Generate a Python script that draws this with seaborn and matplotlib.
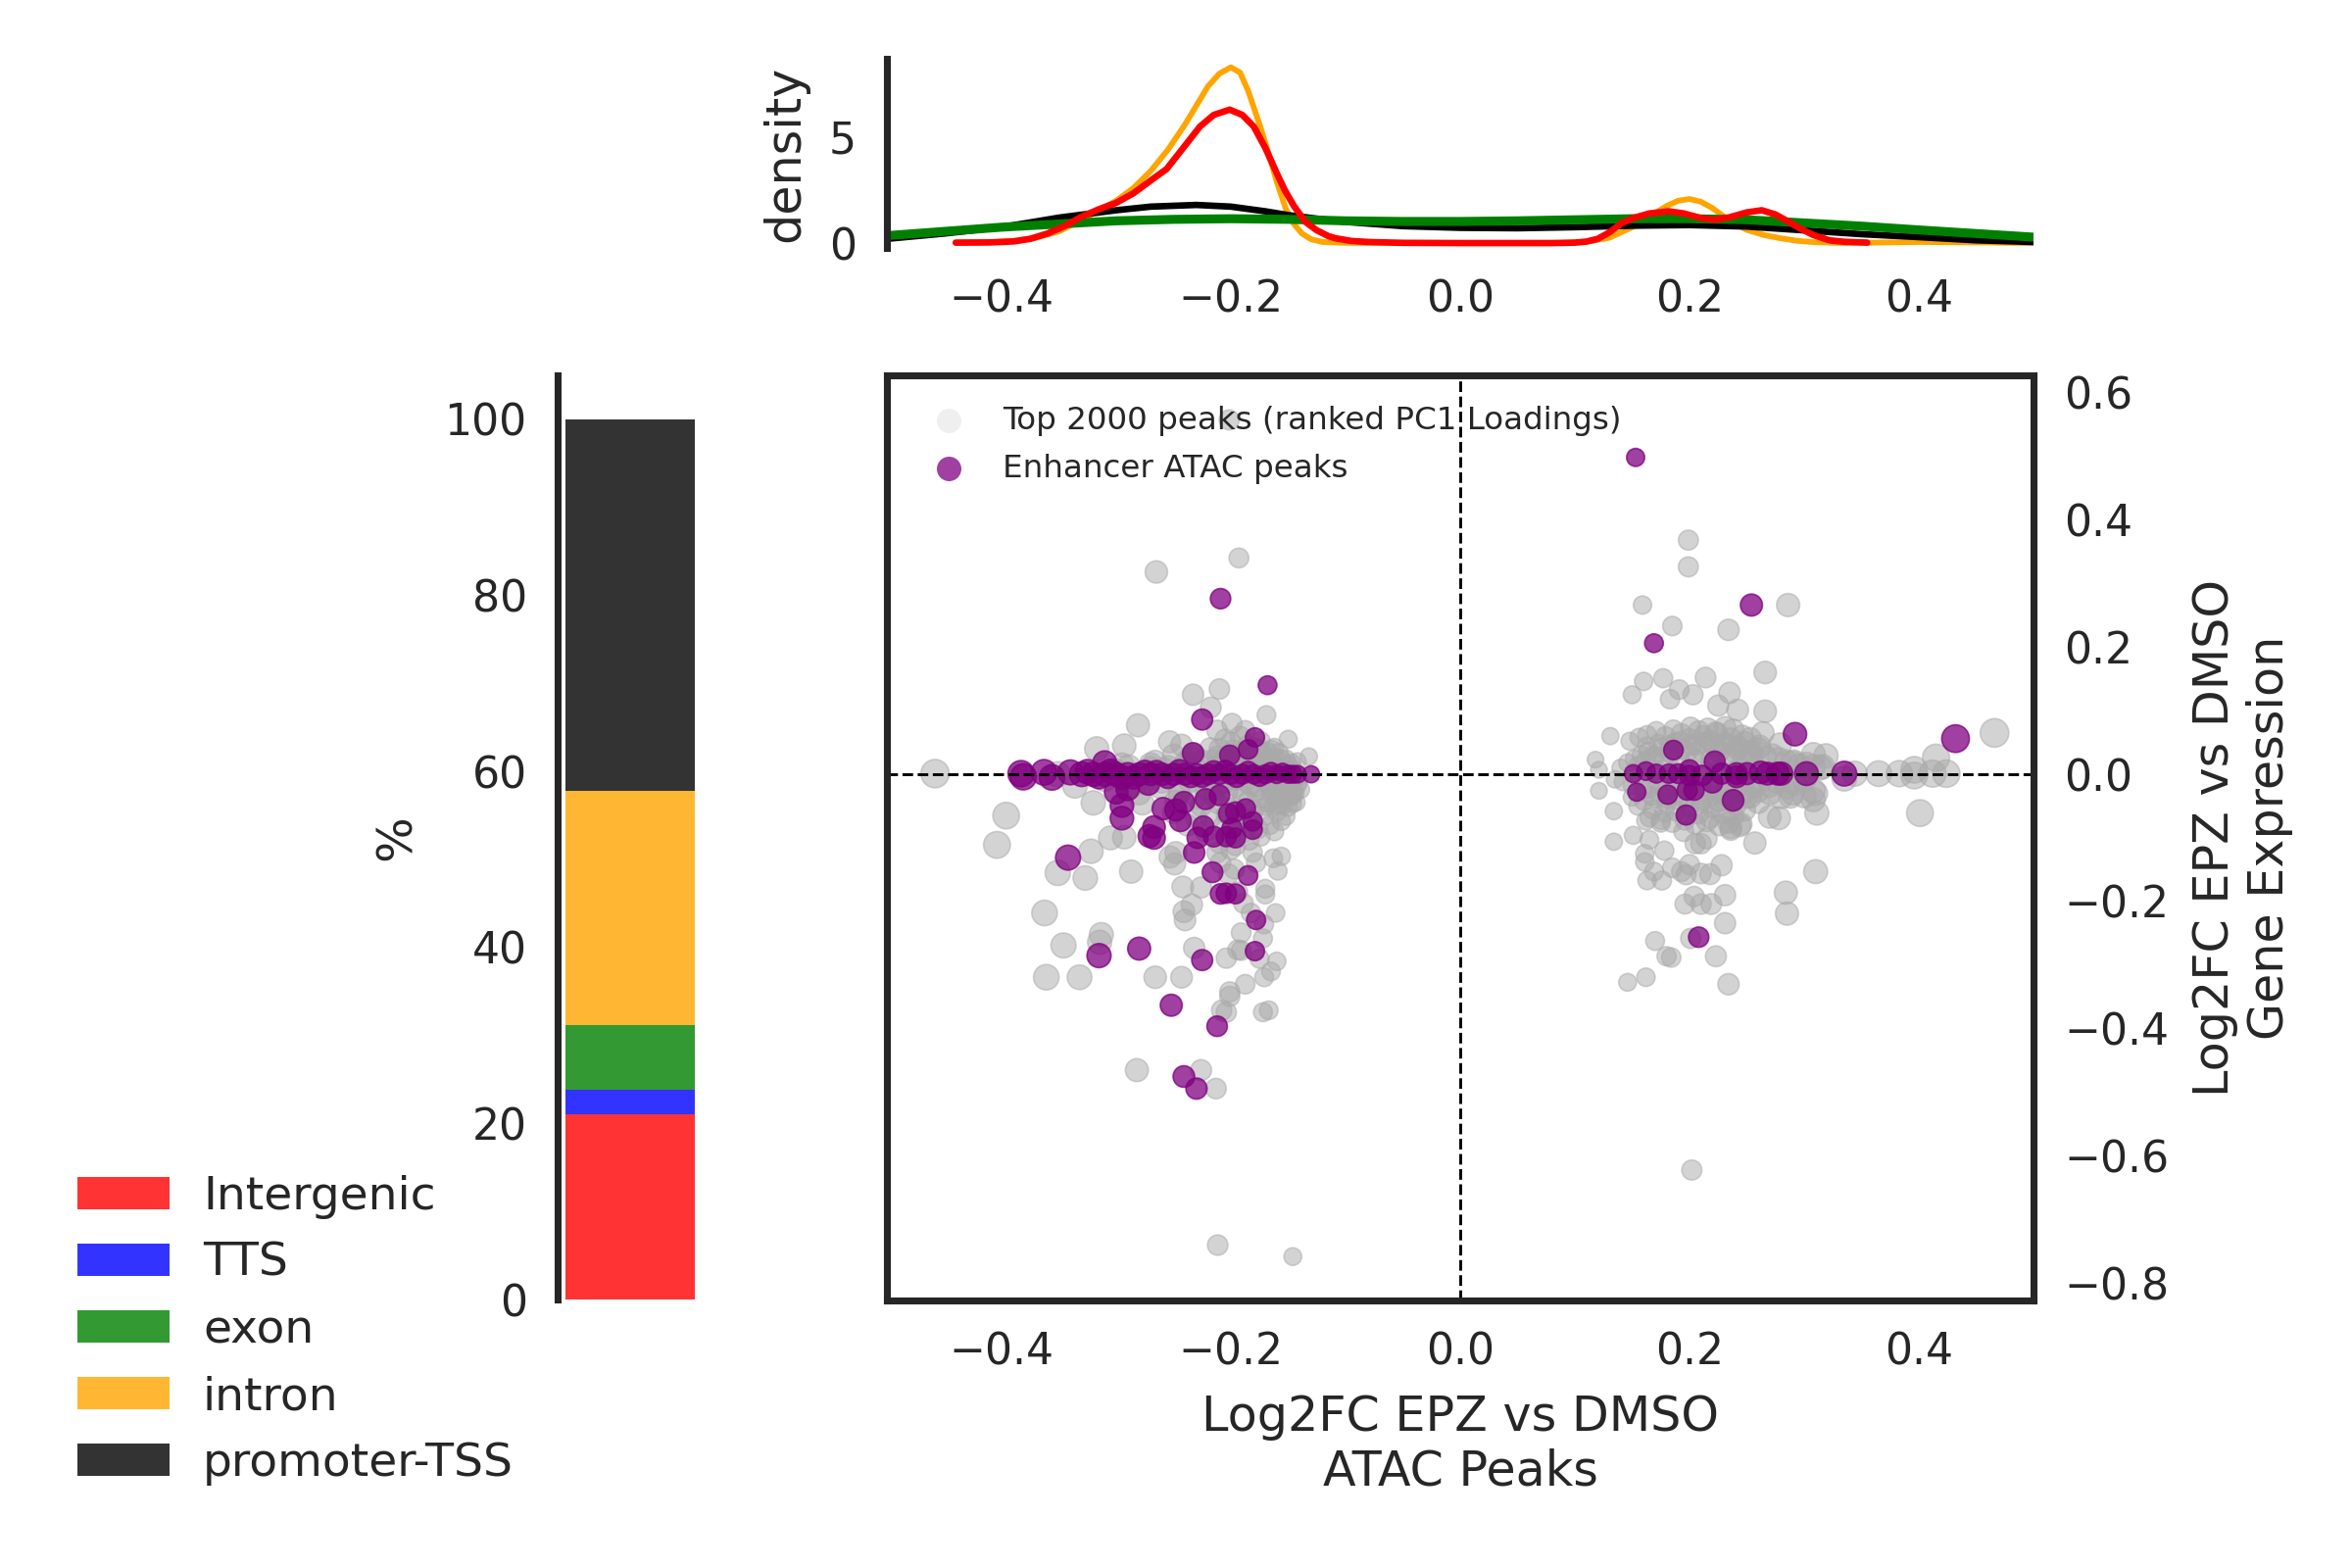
import numpy as np
import pandas as pd
import matplotlib
matplotlib.use("Agg")
import matplotlib.pyplot as plt
from matplotlib.patches import Patch
import seaborn as sns

# grey peaks, left cloud
gray_left_x = [-0.2015, -0.193, -0.265, -0.233, -0.21, -0.2175, -0.169, -0.281, -0.15, -0.293, -0.317, -0.132, -0.142,
               -0.458, -0.396, -0.404, -0.322, -0.305, -0.293, -0.32, -0.336, -0.351, -0.277, -0.2535, -0.243, -0.199,
               -0.1875, -0.212, -0.266, -0.295, -0.1645, -0.161,
               -0.351, -0.327, -0.287, -0.253, -0.248, -0.249, -0.242, -0.226, -0.234, -0.241, -0.24, -0.3625, -0.313,
               -0.3145, -0.346, -0.232, -0.361, -0.332, -0.266, -0.243, -0.204, -0.194, -0.191, -0.191, -0.172, -0.171,
               -0.175, -0.16, -0.165, -0.171, -0.1875, -0.201, -0.201, -0.208, -0.204, -0.172, -0.167, -0.282, -0.226,
               -0.213, -0.2115, -0.146, -0.189, -0.1825, -0.161, -0.17, -0.17, -0.159, -0.156, -0.163, -0.178, -0.181,
               -0.2, -0.197, -0.209, -0.202, -0.212, -0.194]
gray_left_y = [0.557, 0.34, 0.318, 0.125, 0.134, 0.105, 0.093, 0.077, 0.055, 0.045, 0.04, 0.028, 0.02,
               0.001, -0.065, -0.111, -0.121, -0.10, -0.099, -0.045, -0.018, 0.0, -0.046, 0.051, 0.046, 0.08,
               0.069, 0.069, 0.02, 0.015, 0.039, 0.026,
               -0.155, -0.163, -0.153, -0.13, -0.123, -0.141, -0.177, -0.178, -0.205, -0.216, -0.229, -0.218, -0.252,
               -0.264, -0.269, -0.273, -0.319, -0.319, -0.319, -0.319, -0.289, -0.276, -0.277, -0.249, -0.258, -0.236,
               -0.29, -0.294, -0.31, -0.319, -0.33, -0.342, -0.349, -0.371, -0.374, -0.374, -0.371, -0.465, -0.465,
               -0.494, -0.74, -0.758, -0.203, -0.218, -0.218, -0.18, -0.189, -0.152, -0.129, -0.132, -0.139, -0.123,
               -0.118, -0.149, -0.139, -0.157, -0.123, -0.185]
# dense core of the left cloud
core_left_x = [-0.24, -0.232, -0.225, -0.218, -0.212, -0.205, -0.198, -0.192, -0.186, -0.18, -0.174, -0.168, -0.162,
               -0.156, -0.15, -0.146, -0.228, -0.221, -0.214, -0.207, -0.2, -0.194, -0.188, -0.181, -0.176, -0.17,
               -0.164, -0.158, -0.152, -0.147, -0.236, -0.222, -0.209, -0.196, -0.183, -0.172, -0.16, -0.151, -0.143,
               -0.215, -0.203, -0.19, -0.178, -0.166, -0.155, -0.148, -0.141, -0.226, -0.211, -0.197, -0.185, -0.173,
               -0.163, -0.154, -0.146, -0.139, -0.218, -0.204, -0.192, -0.18, -0.169, -0.159, -0.15, -0.143, -0.206,
               -0.194, -0.183, -0.171, -0.16, -0.152, -0.2, -0.188, -0.176, -0.166, -0.156, -0.21, -0.196, -0.184,
               -0.174, -0.162, -0.222, -0.245, -0.262, -0.276, -0.289, -0.3, -0.258, -0.27, -0.284, -0.23, -0.25,
               -0.17, -0.166, -0.161, -0.157, -0.153, -0.149, -0.145, -0.142, -0.168, -0.163, -0.159, -0.155, -0.15,
               -0.146, -0.144, -0.172, -0.165, -0.158, -0.152, -0.147, -0.19, -0.185, -0.18, -0.175, -0.21, -0.205,
               -0.2, -0.195, -0.19, -0.185, -0.18, -0.175, -0.22, -0.215, -0.21, -0.205, -0.195, -0.187, -0.178,
               -0.25, -0.255, -0.24, -0.235, -0.245, -0.26, -0.23, -0.27, -0.28, -0.29, -0.31, -0.238, -0.248]
core_left_y = [0.012, 0.03, 0.022, 0.041, 0.028, 0.055, 0.038, 0.06, 0.045, 0.032, 0.052, 0.035, 0.042,
               0.024, 0.015, 0.008, 0.005, -0.01, 0.012, 0.004, 0.018, 0.008, 0.02, 0.006, 0.024, 0.01,
               0.02, 0.006, 0.002, -0.004, -0.012, -0.024, -0.016, -0.009, -0.018, -0.006, -0.012, -0.014, -0.006,
               -0.035, -0.028, -0.034, -0.028, -0.022, -0.026, -0.02, -0.012, -0.05, -0.046, -0.052, -0.042, -0.038,
               -0.034, -0.04, -0.034, -0.024, -0.068, -0.062, -0.066, -0.056, -0.05, -0.048, -0.052, -0.044, -0.08,
               -0.08, -0.07, -0.066, -0.06, -0.066, -0.098, -0.092, -0.086, -0.08, -0.074, -0.108, -0.112, -0.104,
               -0.098, -0.09, -0.09, -0.03, -0.02, -0.012, 0.012, 0.005, 0.008, 0.016, -0.016, -0.07, -0.06,
               -0.012, -0.022, -0.016, -0.03, -0.018, -0.036, -0.026, -0.018, -0.045, -0.05, -0.038, -0.048, -0.036,
               -0.046, -0.03, 0.03, 0.016, 0.034, 0.024, 0.018, 0.034, 0.016, 0.042, 0.03, 0.04, 0.026,
               0.05, 0.03, 0.018, 0.036, 0.012, 0.04, -0.01, 0.022, 0.012, -0.014, -0.02, -0.012, -0.02,
               0.03, 0.012, 0.018, 0.028, -0.03, -0.012, -0.036, 0.01, -0.03, -0.022, -0.008, -0.08, -0.042]

# grey peaks, right cloud
gray_right_x = [0.199, 0.199, 0.159, 0.286, 0.185, 0.234, 0.266, 0.214, 0.177, 0.16, 0.15, 0.191, 0.183, 0.203, 0.235,
                0.225, 0.242, 0.266, 0.264, 0.131, 0.466, 0.415, 0.396, 0.396, 0.412, 0.424, 0.383, 0.365, 0.344, 0.335,
                0.401, 0.118, 0.121, 0.121, 0.134, 0.134, 0.151, 0.165, 0.178, 0.161, 0.161, 0.169, 0.163, 0.176, 0.185,
                0.193, 0.197, 0.2, 0.21, 0.218, 0.228, 0.31, 0.284, 0.285, 0.231, 0.219, 0.21, 0.204, 0.196, 0.231,
                0.201, 0.17, 0.18, 0.184, 0.223, 0.162, 0.146, 0.234, 0.257, 0.278, 0.27, 0.311, 0.288, 0.308, 0.308,
                0.308, 0.319, 0.279, 0.291, 0.316, 0.205, 0.21, 0.215, 0.195, 0.175, 0.162, 0.236, 0.244, 0.234, 0.202]
gray_right_y = [0.368, 0.326, 0.266, 0.266, 0.233, 0.227, 0.16, 0.152, 0.151, 0.146, 0.125, 0.133, 0.118, 0.125, 0.128,
                0.108, 0.101, 0.099, 0.065, 0.06, 0.065, 0.026, 0.007, -0.002, 0.001, 0.001, 0.001, 0.001, 0.001, -0.007,
                -0.061, 0.023, 0.007, -0.026, -0.058, -0.106, -0.096, -0.103, -0.12, -0.125, -0.138, -0.153, -0.167,
                -0.167, -0.147, -0.153, -0.158, -0.142, -0.156, -0.157, -0.143, -0.153, -0.186, -0.219, -0.19, -0.204,
                -0.204, -0.192, -0.204, -0.234, -0.258, -0.262, -0.286, -0.288, -0.286, -0.319, -0.327, -0.33, -0.108,
                -0.069, -0.067, -0.061, -0.035, -0.04, -0.026, 0.031, 0.029, 0.047, 0.02, 0.012, -0.109, -0.109, -0.101,
                -0.09, -0.076, -0.073, -0.087, -0.081, -0.076, -0.622]
# dense core of the right cloud
core_right_x = [0.14, 0.146, 0.152, 0.158, 0.164, 0.17, 0.176, 0.182, 0.188, 0.194, 0.2, 0.206, 0.212, 0.218, 0.224, 0.23,
                0.236, 0.242, 0.248, 0.254, 0.26, 0.266, 0.272, 0.278, 0.284, 0.29, 0.296, 0.302, 0.308, 0.314,
                0.135, 0.142, 0.15, 0.157, 0.165, 0.172, 0.18, 0.187, 0.195, 0.203, 0.21, 0.217, 0.225, 0.233, 0.24,
                0.247, 0.255, 0.263, 0.27, 0.277, 0.285, 0.292, 0.3, 0.148, 0.156, 0.163, 0.171, 0.179, 0.186, 0.193,
                0.201, 0.208, 0.216, 0.223, 0.231, 0.238, 0.246, 0.253, 0.261, 0.15, 0.16, 0.17, 0.18, 0.19, 0.2, 0.21,
                0.22, 0.23, 0.24, 0.25, 0.26, 0.155, 0.168, 0.178, 0.188, 0.198, 0.208, 0.218, 0.228, 0.238, 0.248,
                0.165, 0.175, 0.185, 0.196, 0.205, 0.215, 0.226, 0.236, 0.245, 0.172, 0.186, 0.2, 0.214, 0.226, 0.24,
                0.155, 0.162, 0.169, 0.177, 0.184, 0.191, 0.198, 0.205, 0.212, 0.219, 0.226, 0.233, 0.24, 0.247, 0.254,
                0.16, 0.167, 0.174, 0.181, 0.189, 0.196, 0.203, 0.211, 0.218, 0.225, 0.232, 0.239, 0.246, 0.253, 0.26,
                0.163, 0.173, 0.183, 0.192, 0.202, 0.213, 0.222, 0.232, 0.242, 0.252, 0.27, 0.28, 0.29, 0.3, 0.31]
core_right_y = [0.01, 0.018, 0.024, 0.03, 0.036, 0.028, 0.042, 0.034, 0.05, 0.04, 0.056, 0.046, 0.06, 0.052, 0.064, 0.048,
                0.056, 0.044, 0.05, 0.036, 0.04, 0.028, 0.03, 0.024, 0.02, 0.018, 0.014, 0.016, 0.012, 0.01,
                -0.008, -0.012, -0.018, -0.01, -0.022, -0.014, -0.026, -0.018, -0.024, -0.016, -0.028, -0.02, -0.026,
                -0.014, -0.024, -0.012, -0.02, -0.01, -0.018, -0.012, -0.02, -0.014, -0.008, 0.052, 0.058, 0.062, 0.068,
                0.06, 0.07, 0.064, 0.074, 0.068, 0.072, 0.066, 0.074, 0.07, 0.06, 0.056, 0.044, -0.036, -0.042, -0.038,
                -0.046, -0.04, -0.05, -0.044, -0.052, -0.04, -0.048, -0.036, -0.044, -0.05, -0.056, -0.06, -0.058, -0.064,
                -0.062, -0.068, -0.06, -0.066, -0.056, -0.068, -0.072, -0.076, -0.072, -0.078, -0.074, -0.08, -0.084,
                -0.078, 0.006, 0.002, 0.008, 0.003, 0.007, 0.004,
                0.014, 0.022, 0.03, 0.02, 0.032, 0.024, 0.036, 0.022, 0.034, 0.024, 0.036, 0.026, 0.034, 0.022, 0.03,
                -0.024, -0.034, -0.028, -0.038, -0.03, -0.038, -0.03, -0.04, -0.034, -0.042, -0.032, -0.04, -0.03, -0.036, -0.026,
                0.044, 0.048, 0.046, 0.052, 0.046, 0.05, 0.044, 0.048, 0.04, 0.028, -0.03, -0.036, -0.03, -0.034, -0.03]

# enhancer peaks
purple_x = [-0.209, -0.168, -0.225, -0.179, -0.233, -0.201, -0.185, -0.31,
            -0.383, -0.381, -0.363, -0.356, -0.34, -0.33, -0.32, -0.31, -0.3, -0.29, -0.28, -0.27, -0.26, -0.25, -0.24,
            -0.23, -0.22, -0.21, -0.2, -0.19, -0.18, -0.17, -0.16, -0.15, -0.146, -0.142, -0.13,
            -0.3, -0.295, -0.295, -0.29, -0.272, -0.259, -0.248, -0.241, -0.244, -0.267, -0.271, -0.267, -0.222, -0.21,
            -0.202, -0.196, -0.187, -0.181, -0.181, -0.199, -0.204, -0.196, -0.215, -0.224, -0.229, -0.232, -0.342,
            -0.216, -0.185, -0.209, -0.204, -0.196, -0.178, -0.179, -0.225, -0.28, -0.315, -0.252, -0.212, -0.241, -0.23,
            0.254, 0.169, 0.292, 0.432, 0.186, 0.222, 0.154, 0.181, 0.198, 0.204, 0.22, 0.238, 0.197, 0.241, 0.208, 0.153,
            0.151, 0.162, 0.171, 0.182, 0.19, 0.2, 0.2, 0.211, 0.228, 0.241, 0.25, 0.262, 0.268, 0.277, 0.28, 0.302, 0.335,
            -0.325, -0.305, -0.285, -0.265, -0.245, -0.225, -0.205, -0.185, -0.165, -0.315, -0.295, -0.275, -0.255, -0.235,
            -0.215, -0.195, -0.175, -0.155]
purple_y = [0.276, 0.14, 0.086, 0.058, 0.033, 0.03, 0.039, 0.018,
            0.001, -0.004, 0.003, -0.005, 0.003, 0.0, 0.0, 0.0, 0.0, 0.0, 0.0, 0.0, 0.0, 0.0, 0.0,
            0.0, 0.0, 0.0, 0.0, 0.0, 0.0, 0.0, 0.0, 0.0, 0.0, 0.0, 0.0,
            -0.028, -0.049, -0.069, -0.023, -0.015, -0.054, -0.056, -0.044, -0.073, -0.083, -0.097, -0.1, -0.039, -0.033,
            -0.062, -0.059, -0.054, -0.074, -0.087, -0.085, -0.098, -0.1, -0.098, -0.082, -0.1, -0.123, -0.131,
            -0.154, -0.159, -0.188, -0.187, -0.188, -0.229, -0.278, -0.292, -0.274, -0.285, -0.363, -0.396, -0.475, -0.494,
            0.266, 0.206, 0.063, 0.056, 0.038, 0.02, -0.028, -0.032, -0.025, -0.025, -0.013, -0.041, -0.064, -0.004, -0.256, 0.498,
            0.001, 0.005, 0.001, 0.001, 0.001, 0.007, -0.002, -0.002, 0.001, 0.001, 0.001, 0.003, 0.001, 0.001, 0.001, 0.001, 0.001,
            0.004, 0.005, -0.005, 0.004, 0.006, -0.004, 0.006, 0.005, 0.004, -0.004, -0.005, 0.004, -0.005, -0.004,
            0.005, -0.005, -0.004, 0.003]

# stacked annotation bar
annot_names = ["Intergenic", "TTS", "exon", "intron", "promoter-TSS"]
annot_pct = [21.0, 2.8, 7.4, 26.6, 42.2]
annot_colors = ["red", "blue", "green", "orange", "black"]

# density curves on top
orange_x = [-0.44, -0.41, -0.39, -0.37, -0.35, -0.33, -0.315, -0.30, -0.285, -0.27, -0.255, -0.24, -0.23, -0.22, -0.21,
            -0.2, -0.192, -0.185, -0.175, -0.168, -0.16, -0.152, -0.145, -0.138, -0.13, -0.12, -0.1, 0.0, 0.09, 0.11,
            0.13, 0.15, 0.165, 0.18, 0.19, 0.2, 0.21, 0.22, 0.23, 0.24, 0.25, 0.265, 0.28, 0.295, 0.31, 0.33, 0.36, 0.4,
            0.45, 0.5]
orange_y = [0.02, 0.04, 0.1, 0.25, 0.55, 1.1, 1.55, 2.0, 2.6, 3.4, 4.4, 5.6, 6.5, 7.4, 8.0,
            8.3, 8.05, 7.2, 5.6, 4.4, 2.9, 1.6, 0.9, 0.45, 0.18, 0.05, 0.01, 0.0, 0.0, 0.06,
            0.25, 0.75, 1.25, 1.75, 2.0, 2.08, 1.95, 1.65, 1.25, 0.9, 0.62, 0.38, 0.22, 0.1, 0.04, 0.01, 0.02, 0.05,
            0.03, 0.0]
red_x = [-0.44, -0.41, -0.389, -0.375, -0.36, -0.345, -0.33, -0.315, -0.30, -0.285, -0.27, -0.256, -0.24, -0.227, -0.215,
         -0.201, -0.19, -0.18, -0.17, -0.16, -0.153, -0.145, -0.135, -0.125, -0.115, -0.109, -0.095, -0.08, -0.05, 0.0,
         0.08, 0.1, 0.11, 0.12, 0.13, 0.141, 0.152, 0.165, 0.182, 0.195, 0.21, 0.222, 0.235, 0.25, 0.263, 0.275, 0.285,
         0.296, 0.308, 0.322, 0.335, 0.355]
red_y = [0.02, 0.03, 0.08, 0.2, 0.45, 0.8, 1.25, 1.6, 1.9, 2.35, 2.95, 3.5, 4.6, 5.5, 6.05,
         6.3, 6.05, 5.5, 4.5, 3.3, 2.5, 1.75, 1.0, 0.6, 0.33, 0.23, 0.1, 0.05, 0.01, 0.0,
         0.0, 0.02, 0.07, 0.2, 0.5, 0.95, 1.2, 1.4, 1.5, 1.4, 1.18, 1.1, 1.22, 1.45, 1.55, 1.35, 1.05,
         0.7, 0.38, 0.13, 0.06, 0.02]
black_x = [-0.5, -0.45, -0.4, -0.35, -0.3, -0.27, -0.23, -0.2, -0.17, -0.15, -0.12, -0.1, -0.05, 0.0, 0.05, 0.1, 0.15, 0.2,
           0.25, 0.3, 0.35, 0.4, 0.45, 0.5]
black_y = [0.2, 0.45, 0.75, 1.2, 1.55, 1.72, 1.8, 1.72, 1.5, 1.32, 1.12, 1.0, 0.8, 0.72, 0.7, 0.75, 0.82, 0.85,
           0.78, 0.6, 0.42, 0.28, 0.13, 0.05]
green_x = [-0.5, -0.45, -0.4, -0.35, -0.3, -0.25, -0.2, -0.15, -0.1, -0.05, 0.0, 0.05, 0.1, 0.15, 0.2, 0.25, 0.3, 0.35,
           0.4, 0.45, 0.5]
green_y = [0.35, 0.55, 0.75, 0.9, 1.05, 1.12, 1.15, 1.12, 1.05, 1.02, 1.02, 1.05, 1.1, 1.15, 1.15, 1.1, 0.95, 0.8, 0.62, 0.45, 0.28]

x_ticks = [-0.4, -0.2, 0.0, 0.2, 0.4]
y_ticks = [-0.8, -0.6, -0.4, -0.2, 0.0, 0.2, 0.4, 0.6]

sns.set_theme(style="white", rc={"axes.edgecolor": ".15", "axes.linewidth": 1.7, "font.size": 10.5})
W, H = 2400, 1600


def add_axes_px(fig, left, top, right, bottom):
    return fig.add_axes([left / W, 1 - bottom / H, (right - left) / W, (bottom - top) / H])


fig = plt.figure(figsize=(8, 16 / 3), dpi=300)
ax_main = add_axes_px(fig, 905, 383, 2075, 1327)
ax_top = add_axes_px(fig, 905, 60, 2075, 253)
ax_bar = add_axes_px(fig, 569, 383, 713, 1326)

# main scatter
gray = pd.DataFrame({"x": gray_left_x + core_left_x + gray_right_x + core_right_x,
                     "y": gray_left_y + core_left_y + gray_right_y + core_right_y})
gray["size"] = gray["x"].abs()
purple = pd.DataFrame({"x": purple_x, "y": purple_y})
purple["size"] = purple["x"].abs()
size_kw = dict(size="size", sizes=(5, 52), size_norm=(0, 0.5), legend=False)
sns.scatterplot(data=gray, x="x", y="y", color="darkgrey", alpha=0.5, edgecolor="darkgrey", linewidth=0.4, ax=ax_main, **size_kw)
sns.scatterplot(data=purple, x="x", y="y", color="purple", alpha=0.75, edgecolor="purple", linewidth=0.4, ax=ax_main, **size_kw)
ax_main.axhline(0, color="black", lw=0.7, ls="--")
ax_main.axvline(0, color="black", lw=0.7, ls="--")
ax_main.set_xlim(-0.5, 0.5)
ax_main.set_ylim(-0.827, 0.627)
ax_main.set_xticks(x_ticks)
ax_main.set_yticks(y_ticks)
ax_main.yaxis.tick_right()
ax_main.yaxis.set_label_position("right")
ax_main.tick_params(labelsize=10.6, length=0, pad=7.5)
ax_main.set_xlabel("Log2FC EPZ vs DMSO\nATAC Peaks", fontsize=11.8, labelpad=5)
ax_main.set_ylabel("Log2FC EPZ vs DMSO\nGene Expression", fontsize=11.8, labelpad=5.5)
for lab in ax_main.get_yticklabels():
    lab.set_ha("left")

h_gray = ax_main.scatter([], [], s=36, color="darkgrey", alpha=0.18, linewidth=0)
h_purple = ax_main.scatter([], [], s=36, color="purple", alpha=0.75, linewidth=0)
ax_main.legend([h_gray, h_purple], ["Top 2000 peaks (ranked PC1 Loadings)", "Enhancer ATAC peaks"],
               loc="upper left", fontsize=7.8, frameon=False, handletextpad=0.7, borderaxespad=0.2,
               labelspacing=0.56, bbox_to_anchor=(0.009, 0.988))

# top density panel
for cx, cy, col, lw in [(orange_x, orange_y, "orange", 1.4), (black_x, black_y, "black", 1.6),
                        (green_x, green_y, "green", 2.2), (red_x, red_y, "red", 1.6)]:
    sns.lineplot(x=cx, y=cy, color=col, lw=lw, estimator=None, sort=False, ax=ax_top)
ax_top.set_xlim(-0.5, 0.5)
ax_top.set_ylim(-0.23, 8.7)
ax_top.set_xticks(x_ticks)
ax_top.set_yticks([0, 5])
ax_top.tick_params(labelsize=10.6, length=0, pad=7.5)
ax_top.set_ylabel("density", fontsize=11.8, labelpad=5)
sns.despine(ax=ax_top, bottom=True)

# stacked bar
bar_df = pd.DataFrame({"group": ["all"] * len(annot_names), "annot": annot_names, "pct": annot_pct})
sns.histplot(data=bar_df, x="group", weights="pct", hue="annot", hue_order=annot_names[::-1], multiple="stack",
             palette=dict(zip(annot_names, annot_colors)), alpha=0.8, linewidth=0, shrink=1, legend=False, ax=ax_bar)
ax_bar.set_xlim(-0.56, 0.53)
ax_bar.set_ylim(0, 105)
ax_bar.set_xticks([])
ax_bar.set_yticks(range(0, 101, 20))
ax_bar.tick_params(labelsize=10.6, length=0, pad=7.5)
ax_bar.set_xlabel("")
ax_bar.set_ylabel("%", fontsize=11.8, labelpad=6)
sns.despine(ax=ax_bar, bottom=True)

handles = [Patch(color=c, alpha=0.8, lw=0) for c in annot_colors]
fig.legend(handles, annot_names, loc="lower left", bbox_to_anchor=(60 / W, 1 - 1535 / H), fontsize=11.3, frameon=False,
           handlelength=2.0, handleheight=0.68, labelspacing=0.49, handletextpad=0.72, borderaxespad=0)

fig.savefig("out.png", dpi=300)
